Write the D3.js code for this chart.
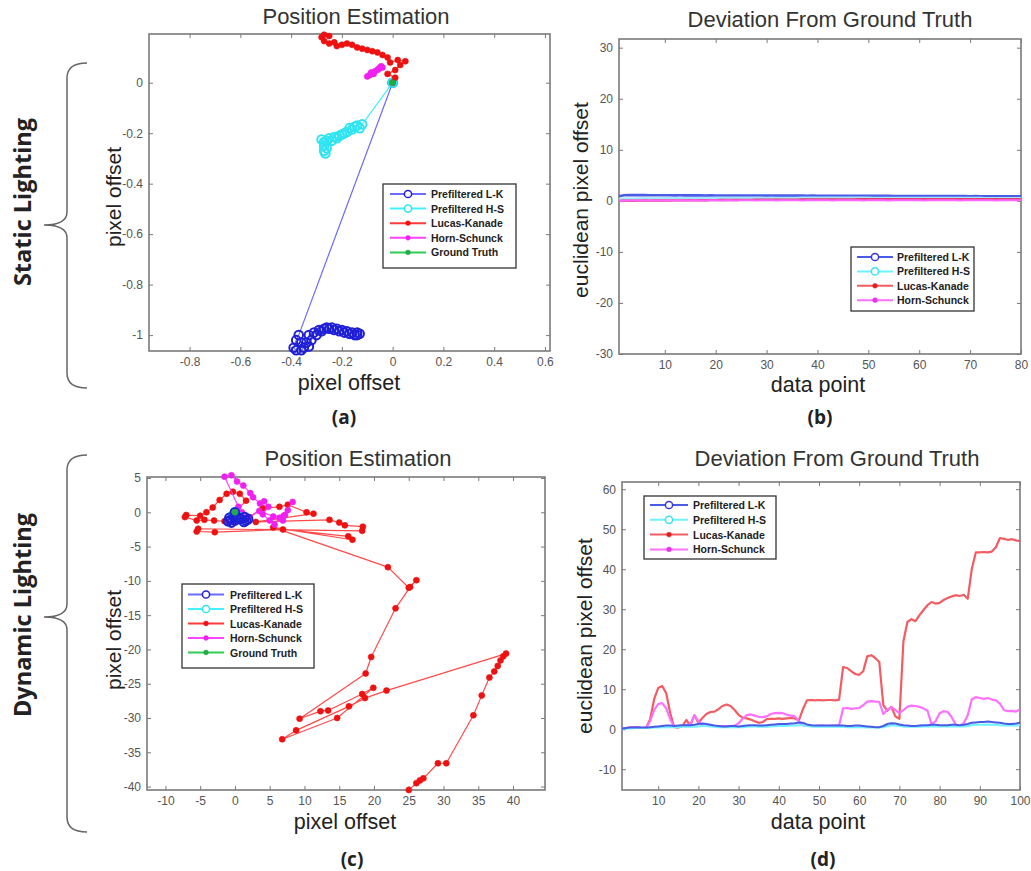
<!DOCTYPE html>
<html>
<head>
<meta charset="utf-8">
<script src="https://cdn.jsdelivr.net/npm/d3@7"></script>
<style>
  body { margin: 0; background: #fff; }
  svg { display: block; }
</style>
</head>
<body>
<script>
// ---- data ----
var legendAll = ['Prefiltered L-K', 'Prefiltered H-S', 'Lucas-Kanade', 'Horn-Schunck', 'Ground Truth'];

// (a) static lighting, position estimates [x, y]
var aLK = [[0,0],[-0.37,-1.0],[-0.38,-1.02],[-0.39,-1.05],[-0.38,-1.06],[-0.36,-1.06],[-0.35,-1.05],[-0.36,-1.03],
  [-0.34,-1.03],[-0.33,-1.045],[-0.32,-1.02],[-0.33,-1.0],[-0.31,-0.99],[-0.30,-1.0],[-0.29,-0.98],[-0.28,-0.985],
  [-0.27,-0.975],[-0.26,-0.97],[-0.25,-0.975],[-0.24,-0.97],[-0.23,-0.98],[-0.22,-0.975],[-0.21,-0.985],[-0.20,-0.98],
  [-0.19,-0.99],[-0.18,-0.985],[-0.17,-0.995],[-0.16,-0.99],[-0.15,-1.0],[-0.14,-0.99],[-0.13,-0.995],[-0.14,-1.0]];
var aHS = [[0,0],[-0.12,-0.165],[-0.13,-0.18],[-0.14,-0.17],[-0.15,-0.175],[-0.16,-0.185],[-0.17,-0.18],[-0.18,-0.195],
  [-0.19,-0.2],[-0.2,-0.205],[-0.21,-0.21],[-0.22,-0.22],[-0.23,-0.215],[-0.24,-0.23],[-0.25,-0.22],[-0.26,-0.23],
  [-0.27,-0.235],[-0.28,-0.225],[-0.27,-0.25],[-0.26,-0.26],[-0.27,-0.27],[-0.265,-0.28]];
var aLKr = [[0,0],[0.01,0.02],[-0.02,0.035],[0.01,0.05],[0.03,0.07],[0.05,0.085],[0.02,0.09],[-0.01,0.08],[-0.02,0.1],
  [-0.04,0.11],[-0.06,0.12],[-0.08,0.125],[-0.1,0.13],[-0.12,0.135],[-0.14,0.14],[-0.16,0.15],[-0.18,0.155],[-0.2,0.15],
  [-0.22,0.145],[-0.23,0.16],[-0.25,0.155],[-0.27,0.165],[-0.28,0.18],[-0.27,0.19],[-0.25,0.185]];
var aHSm = [[-0.1,0.025],[-0.09,0.03],[-0.085,0.04],[-0.075,0.035],[-0.07,0.045],[-0.06,0.05],[-0.055,0.055],
  [-0.05,0.06],[-0.045,0.065],[-0.04,0.06]];
var aGT = [[0,0]];
var aXTicks = [-0.8,-0.6,-0.4,-0.2,0,0.2,0.4,0.6];
var aYTicks = [-1,-0.8,-0.6,-0.4,-0.2,0];

// (b) static lighting, deviation per data point (1..80)
var bLK = [0.9,1.1,1.12,1.11,1.12,1.11,1.1,1.1,1.09,1.1, 1.09,1.08,1.09,1.08,1.07,1.08,1.07,1.06,1.07,1.06,
  1.06,1.05,1.06,1.05,1.05,1.04,1.05,1.04,1.04,1.03, 1.04,1.03,1.03,1.02,1.03,1.02,1.02,1.01,1.02,1.01,
  1.01,1.0,1.01,1.0,1.0,0.99,1.0,0.99,0.99,0.98, 0.99,0.98,0.98,0.97,0.96,0.95,0.95,0.94,0.95,0.94,
  0.94,0.93,0.94,0.93,0.93,0.92,0.93,0.92,0.92,0.91, 0.92,0.91,0.91,0.9,0.91,0.9,0.9,0.9,0.89,0.9];
var bHS = [0.3,0.4,0.42,0.44,0.45,0.46,0.47,0.48,0.49,0.5, 0.5,0.51,0.51,0.52,0.52,0.53,0.53,0.54,0.54,0.55,
  0.55,0.55,0.56,0.56,0.56,0.57,0.57,0.57,0.58,0.58, 0.58,0.58,0.59,0.59,0.59,0.59,0.6,0.6,0.6,0.6,
  0.6,0.6,0.6,0.6,0.6,0.6,0.6,0.6,0.6,0.6, 0.59,0.59,0.58,0.58,0.58,0.57,0.57,0.57,0.57,0.57,
  0.56,0.56,0.56,0.56,0.56,0.55,0.55,0.55,0.55,0.55, 0.55,0.55,0.54,0.54,0.54,0.54,0.54,0.54,0.54,0.54];
var bLKr = [0.0,0.02,0.04,0.03,0.05,0.06,0.05,0.07,0.06,0.08, 0.08,0.09,0.1,0.1,0.11,0.12,0.12,0.13,0.14,0.14,
  0.15,0.16,0.16,0.17,0.18,0.18,0.19,0.2,0.2,0.21, 0.22,0.22,0.23,0.23,0.24,0.24,0.25,0.25,0.26,0.26,
  0.27,0.27,0.28,0.28,0.28,0.29,0.29,0.3,0.3,0.3, 0.31,0.31,0.31,0.32,0.32,0.32,0.33,0.33,0.33,0.33,
  0.33,0.33,0.34,0.34,0.33,0.34,0.33,0.34,0.34,0.33, 0.33,0.34,0.33,0.33,0.34,0.33,0.33,0.34,0.33,0.33];
var bHSm = [0.0,0.03,0.05,0.06,0.06,0.07,0.07,0.08,0.08,0.08, 0.09,0.09,0.08,0.09,0.09,0.1,0.09,0.09,0.1,0.1,
  0.09,0.1,0.1,0.09,0.1,0.1,0.1,0.09,0.1,0.1, 0.1,0.09,0.1,0.1,0.1,0.1,0.09,0.1,0.1,0.1,
  0.1,0.1,0.09,0.1,0.1,0.1,0.1,0.1,0.09,0.1, 0.1,0.1,0.1,0.09,0.1,0.1,0.1,0.1,0.1,0.1,
  0.09,0.1,0.1,0.1,0.1,0.1,0.1,0.09,0.1,0.1, 0.1,0.1,0.1,0.1,0.09,0.1,0.1,0.1,0.1,0.1];
var bXTicks = [10,20,30,40,50,60,70,80];
var bYTicks = [-30,-20,-10,0,10,20,30];

// (c) dynamic lighting, position estimates [x, y]
var cLK = [[0,0],[1.6,1.7],[0.7,2.7],[-0.3,3.0],[-1.2,2.7],[-2.2,1.8],[-3.2,0.7],[-4.1,0.0],[-5.0,-0.5],[-7.0,-0.4],
  [-7.2,-0.7],[-5.5,-1.2],[-4.4,-1.1],[-3.0,-1.2],[-1.5,-1.3],[1.5,-1.0],[4.0,0.6],[6.4,0.8],[7.6,1.1],[10.3,0.0],
  [11.3,-0.2],[3.0,-1.4],[13.6,-1.1],[15.0,-1.5],[15.8,-1.9],[18.4,-2.1],[18.3,-2.7],[-5.3,-2.4],[-5.5,-2.8],[-2.9,-2.9],
  [6.9,-2.5],[16.3,-3.5],[16.9,-4.0],[5.5,-2.2],[22.0,-8.0],[25.0,-11.0],[26.1,-9.9],[25.2,-10.9],[23.1,-14.0],
  [19.6,-21.1],[18.8,-23.5],[9.3,-30.1],[12.3,-29.0],[13.4,-28.9],[18.3,-26.5],[19.9,-25.6],[14.7,-30.0],[6.8,-33.1],
  [8.8,-31.8],[16.4,-28.3],[18.7,-27.1],[21.8,-26.0],[39.0,-20.6],[38.6,-21.0],[38.2,-21.6],[37.8,-22.4],[37.3,-23.2],
  [36.6,-24.1],[35.5,-26.7],[34.3,-29.6],[30.4,-36.6],[29.2,-36.6],[27.1,-38.8],[26.6,-39.1],[26.1,-39.5],[25.0,-40.5]];
var cHSm = [[0,0],[0.5,0.8],[-1.5,5.2],[-0.5,5.4],[0.3,4.5],[1.2,3.9],[2.2,2.8],[2.6,2.2],[3.6,1.3],[4.2,1.6],
  [4.8,0.8],[4.0,-0.3],[5.0,-1.2],[5.7,-1.8],[6.4,-0.8],[6.9,-1.2],[7.2,-0.4],[7.6,0.3],[8.3,1.5],[7.0,-0.5],
  [5.5,-0.6],[3.5,0.2],[2.1,-0.7],[1.0,0.0]];
var cHS = [[0,0],[-0.4,-0.5],[-0.2,-0.8],[0.3,-0.7],[0.8,-0.9],[0.4,-0.6]];
var cLKb = [[0,0],[-0.8,-0.8],[-1.0,-1.3],[-0.5,-1.5],[0.0,-1.2],[0.5,-0.8],[0.9,-1.0],[1.3,-1.4],[1.6,-1.2],
  [1.9,-1.0],[1.4,-0.7],[0.2,-0.9],[-0.6,-1.1]];
var cGT = [[0,0]];
var cXTicks = [-10,-5,0,5,10,15,20,25,30,35,40];
var cYTicks = [-40,-35,-30,-25,-20,-15,-10,-5,0,5];

// (d) dynamic lighting, deviation per data point (1..100)
var dLK = [0.2,0.3,0.4,0.4,0.5,0.4,0.4,0.5,0.6,0.7, 0.8,0.9,0.9,0.8,0.9,1.0,1.0,1.0,1.1,1.3,
  1.4,1.3,1.1,0.9,0.8,0.7,0.7,0.8,0.8,0.7, 0.8,0.9,1.0,1.0,0.9,0.9,1.0,1.1,1.2,1.3,
  1.3,1.3,1.4,1.5,1.7,1.6,1.2,1.0,0.9,0.9, 0.9,0.9,0.9,0.9,0.9,0.9,0.8,0.8,0.9,0.9,
  0.8,0.7,0.6,0.5,0.5,0.8,1.3,1.5,1.4,1.2, 1.0,0.9,0.8,0.8,0.9,1.0,1.0,1.1,1.1,1.0,
  1.0,1.0,1.1,1.1,1.0,1.1,1.3,1.6,1.7,1.8, 1.8,1.9,1.8,1.7,1.6,1.4,1.3,1.3,1.4,1.6];
var dHS = [0.1,0.2,0.2,0.3,0.3,0.3,0.3,0.3,0.4,0.4, 0.5,0.5,0.5,0.5,0.5,0.6,0.6,0.6,0.6,0.7,
  0.8,0.8,0.7,0.6,0.5,0.5,0.5,0.5,0.5,0.5, 0.5,0.6,0.7,0.7,0.6,0.6,0.6,0.7,0.8,0.8,
  0.8,0.8,0.9,0.9,1.0,1.0,0.8,0.7,0.6,0.6, 0.6,0.6,0.6,0.6,0.6,0.6,0.5,0.5,0.5,0.5,
  0.5,0.4,0.4,0.4,0.4,0.5,0.8,1.0,0.9,0.8, 0.7,0.6,0.6,0.6,0.6,0.7,0.7,0.7,0.7,0.7,
  0.7,0.7,0.7,0.7,0.7,0.7,0.8,1.0,1.1,1.1, 1.1,1.2,1.1,1.1,1.0,0.9,0.9,0.9,0.9,1.0];
var dLKr = [0.3,0.3,0.4,0.5,0.4,0.3,0.4,2.5,7.5,10.3, 10.8,9.0,4.0,0.5,0.4,0.8,2.3,0.9,3.5,1.6,
  2.8,3.8,4.3,4.4,5.0,5.8,6.2,5.8,4.8,3.6, 2.9,2.7,2.4,2.0,1.6,1.8,2.5,2.6,2.6,2.7,
  2.6,2.7,2.8,2.7,2.2,5.0,7.2,7.3,7.2,7.3, 7.2,7.3,7.3,7.2,7.4,15.5,15.3,14.5,13.8,13.6,
  14.5,18.2,18.5,17.8,16.8,6.0,4.6,5.6,3.2,2.6, 22.0,26.8,27.5,27.0,28.5,29.8,31.0,31.8,31.4,31.6,
  32.3,32.8,33.2,33.5,33.3,33.6,32.6,40.0,44.2,44.2, 44.3,44.2,44.4,45.5,47.8,47.6,47.3,47.5,47.2,47.0];
var dHSm = [0.3,0.3,0.4,0.4,0.4,0.3,0.4,2.0,4.8,6.3, 6.5,5.2,2.5,0.6,0.7,0.9,1.0,1.2,3.5,2.0,
  1.0,0.9,0.8,0.8,0.7,0.8,0.8,0.8,0.9,1.5, 2.6,3.5,3.7,3.4,3.1,3.0,3.2,3.8,4.0,4.1,
  4.0,3.6,3.4,3.2,2.0,1.0,0.9,0.9,0.8,0.9, 0.9,0.8,0.9,0.9,1.0,5.2,5.3,5.1,5.2,5.3,
  6.0,6.9,7.0,6.9,6.8,3.8,4.8,5.5,4.8,4.0, 4.8,5.6,5.9,5.8,5.6,5.2,4.6,1.2,2.0,4.0,
  4.5,4.3,3.0,1.2,0.8,1.5,3.5,7.5,8.0,7.8, 7.6,7.8,7.4,7.2,6.4,4.8,4.5,4.6,4.4,5.0];
var dXTicks = [10,20,30,40,50,60,70,80,90,100];
var dYTicks = [-10,0,10,20,30,40,50,60];

// ---- drawing ----
var svg = d3.select('body').append('svg').attr('width', 1031).attr('height', 871);
var frameColor = '#7a7a7a', tickColor = '#555';
var sansFont = '"Liberation Sans", Arial, sans-serif';

function fmt(d){ return String(Math.round(d * 10) / 10); }

function styleAxis(sel){
	sel.select('.domain').remove();
	sel.selectAll('line').attr('stroke', frameColor).attr('stroke-width', 1);
	sel.selectAll('text').attr('fill', tickColor).style('font-size', '12px').style('font-family', sansFont);
}

//makes the box, ticks on all four sides like matlab
function makePanel(box, xDom, yDom, xTicks, yTicks){
	var x = d3.scaleLinear().domain(xDom).range([box.l, box.r]);
	var y = d3.scaleLinear().domain(yDom).range([box.b, box.t]);
	var g = svg.append('g');
	g.append('g').attr('transform', 'translate(0,' + box.b + ')')
		.call(d3.axisBottom(x).tickValues(xTicks).tickSize(-4).tickPadding(6).tickFormat(fmt)).call(styleAxis);
	g.append('g').attr('transform', 'translate(0,' + box.t + ')')
		.call(d3.axisTop(x).tickValues(xTicks).tickSize(-4).tickFormat('')).call(styleAxis);
	g.append('g').attr('transform', 'translate(' + box.l + ',0)')
		.call(d3.axisLeft(y).tickValues(yTicks).tickSize(-4).tickPadding(6).tickFormat(fmt)).call(styleAxis);
	g.append('g').attr('transform', 'translate(' + box.r + ',0)')
		.call(d3.axisRight(y).tickValues(yTicks).tickSize(-4).tickFormat('')).call(styleAxis);
	g.append('rect').attr('x', box.l).attr('y', box.t)
		.attr('width', box.r - box.l).attr('height', box.b - box.t)
		.attr('fill', 'none').attr('stroke', frameColor).attr('stroke-width', 1.6);
	return {x: x, y: y, g: g, box: box};
}

function toPts(vals){ return vals.map(function(v, i){ return [i + 1, v]; }); }

function drawSeries(p, pts, s){
	var line = d3.line().x(function(d){ return p.x(d[0]); }).y(function(d){ return p.y(d[1]); });
	var layer = p.g.append('g');
	layer.append('path').datum(pts).attr('d', line)
		.attr('fill', 'none').attr('stroke', s.line).attr('stroke-width', s.width || 1.2)
		.attr('stroke-linejoin', 'round');
	if (!s.marker) return;
	layer.selectAll('circle').data(pts).enter().append('circle')
		.attr('cx', function(d){ return p.x(d[0]); })
		.attr('cy', function(d){ return p.y(d[1]); })
		.attr('r', s.marker === 'o' ? 4.3 : 3)
		.attr('fill', s.marker === 'o' ? 'none' : s.mark)
		.attr('stroke', s.mark).attr('stroke-width', s.marker === 'o' ? 2 : 0.6);
}

function drawLegend(L, entries){
	var g = svg.append('g');
	g.append('rect').attr('x', L.x).attr('y', L.y).attr('width', L.w).attr('height', L.h)
		.attr('fill', '#fff').attr('stroke', '#333').attr('stroke-width', 1.3);
	entries.forEach(function(e, i){
		var cy = L.row0 + i * L.dy;
		g.append('line').attr('x1', L.lx1).attr('x2', L.lx2).attr('y1', cy).attr('y2', cy)
			.attr('stroke', e.line).attr('stroke-width', 2);
		g.append('circle').attr('cx', (L.lx1 + L.lx2) / 2).attr('cy', cy)
			.attr('r', e.marker === 'o' ? 3.6 : 2.4)
			.attr('fill', e.marker === 'o' ? '#fff' : e.mark)
			.attr('stroke', e.mark).attr('stroke-width', e.marker === 'o' ? 1.5 : 0.5);
		g.append('text').attr('x', L.tx).attr('y', cy + 4).text(e.name)
			.attr('fill', '#222').style('font', 'bold 10.5px ' + sansFont);
	});
}

function label(x, y, txt, size, rot, opts){
	opts = opts || {};
	svg.append('text')
		.attr('transform', 'translate(' + x + ',' + y + ')' + (rot ? ' rotate(' + rot + ')' : ''))
		.attr('text-anchor', 'middle')
		.attr('fill', opts.color || '#222')
		.style('font-size', size + 'px')
		.style('font-family', opts.family || sansFont)
		.style('font-weight', opts.weight || 'normal')
		.text(txt);
}

// style of each method in the scatter plots
var posStyles = [
	{name: legendAll[0], line: '#6b6bff', mark: '#1f1fd6', marker: 'o'},
	{name: legendAll[1], line: '#45f0ff', mark: '#2fe4f2', marker: 'o'},
	{name: legendAll[2], line: '#ff3a3a', mark: '#ee1111', marker: '.'},
	{name: legendAll[3], line: '#ff44ff', mark: '#f020f0', marker: '.'},
	{name: legendAll[4], line: '#33cc55', mark: '#22aa44', marker: '.'}
];
// style of the deviation curves
var devStyles = [
	{name: legendAll[0], line: '#4a5ce6', mark: '#3a3ad8', marker: 'o'},
	{name: legendAll[1], line: '#6ef2ff', mark: '#3fe0f0', marker: 'o'},
	{name: legendAll[2], line: '#f25c62', mark: '#e02020', marker: '.'},
	{name: legendAll[3], line: '#ff70ff', mark: '#e833e8', marker: '.'}
];

// (a)
var pa = makePanel({l: 149, r: 550, t: 34, b: 351}, [-0.96, 0.62], [-1.063, 0.193], aXTicks, aYTicks);
drawSeries(pa, aLK, posStyles[0]);
drawSeries(pa, aHS, posStyles[1]);
drawSeries(pa, aLKr, posStyles[2]);
drawSeries(pa, aHSm, posStyles[3]);
drawSeries(pa, aGT, posStyles[4]);
drawLegend({x: 383, y: 184, w: 133, h: 84, row0: 194, dy: 14.6, lx1: 390, lx2: 426, tx: 431}, posStyles);

// (b)
var pb = makePanel({l: 619, r: 1021, t: 39, b: 354}, [1, 80], [-30, 31.7], bXTicks, bYTicks);
drawSeries(pb, toPts(bLK), {line: devStyles[0].line, width: 2.6});
drawSeries(pb, toPts(bHS), {line: '#9fe8ff', width: 2.4});
drawSeries(pb, toPts(bLKr), {line: '#e0406a', width: 2.4});
drawSeries(pb, toPts(bHSm), {line: '#ff66ff', width: 2});
drawLegend({x: 851, y: 247, w: 123, h: 64, row0: 257, dy: 14.4, lx1: 857, lx2: 893, tx: 897}, devStyles);

// (c)
var pc = makePanel({l: 147, r: 545, t: 477, b: 790}, [-12.65, 44.6], [-40.5, 5.15], cXTicks, cYTicks);
drawSeries(pc, cLK, {line: '#ff4a4a', mark: '#ee1111', marker: '.'});
drawSeries(pc, cHSm, posStyles[3]);
drawSeries(pc, cHS, posStyles[1]);
drawSeries(pc, cLKb, {line: '#3030ff', mark: '#1f1fd6', marker: 'o'});
drawSeries(pc, cGT, posStyles[4]);
drawLegend({x: 182, y: 584, w: 132, h: 84, row0: 594.5, dy: 14.5, lx1: 188, lx2: 224, tx: 230}, posStyles);

// (d)
var pd = makePanel({l: 622, r: 1020, t: 482, b: 790}, [1, 100], [-15.2, 61.8], dXTicks, dYTicks);
drawSeries(pd, toPts(dLKr), {line: devStyles[2].line, width: 2.2});
drawSeries(pd, toPts(dHSm), {line: devStyles[3].line, width: 2.2});
drawSeries(pd, toPts(dHS), {line: devStyles[1].line, width: 2});
drawSeries(pd, toPts(dLK), {line: devStyles[0].line, width: 2});
drawLegend({x: 644, y: 496, w: 132, h: 63, row0: 505, dy: 14.8, lx1: 650, lx2: 688, tx: 693}, devStyles);

// titles and axis labels
label(356, 24, 'Position Estimation', 22, 0, {color: '#333'});
label(830, 27, 'Deviation From Ground Truth', 22, 0, {color: '#333'});
label(358, 466, 'Position Estimation', 22, 0, {color: '#333'});
label(837, 466, 'Deviation From Ground Truth', 22, 0, {color: '#333'});

label(349, 390, 'pixel offset', 21.5);
label(818, 392, 'data point', 21.5);
label(345, 829, 'pixel offset', 21.5);
label(818, 829, 'data point', 21.5);

label(121, 197, 'pixel offset', 21, -90);
label(588, 200, 'euclidean pixel offset', 21, -90);
label(121, 640, 'pixel offset', 21, -90);
label(592, 636, 'euclidean pixel offset', 21, -90);

var capFont = '"Open Sans", "DejaVu Sans", sans-serif';
label(344, 424, '(a)', 19, 0, {weight: 'bold', family: capFont});
label(820, 424, '(b)', 19, 0, {weight: 'bold', family: capFont});
label(352, 866, '(c)', 19, 0, {weight: 'bold', family: capFont});
label(823, 866, '(d)', 19, 0, {weight: 'bold', family: capFont});

// side braces with row captions
function brace(top, tip, bottom){
	var d = 'M87,' + top + ' Q67,' + top + ' 67,' + (top + 15) +
		' L67,' + (tip - 13) + ' Q67,' + tip + ' 44,' + tip +
		' Q67,' + tip + ' 67,' + (tip + 13) +
		' L67,' + (bottom - 15) + ' Q67,' + bottom + ' 87,' + bottom;
	svg.append('path').attr('d', d).attr('fill', 'none').attr('stroke', '#666').attr('stroke-width', 1.5);
}
brace(63, 225, 388);
brace(455, 617, 832);
label(31, 202, 'Static Lighting', 23.5, -90, {weight: 'bold', family: capFont});
label(31, 615, 'Dynamic Lighting', 23.5, -90, {weight: 'bold', family: capFont});
</script>
</body>
</html>
